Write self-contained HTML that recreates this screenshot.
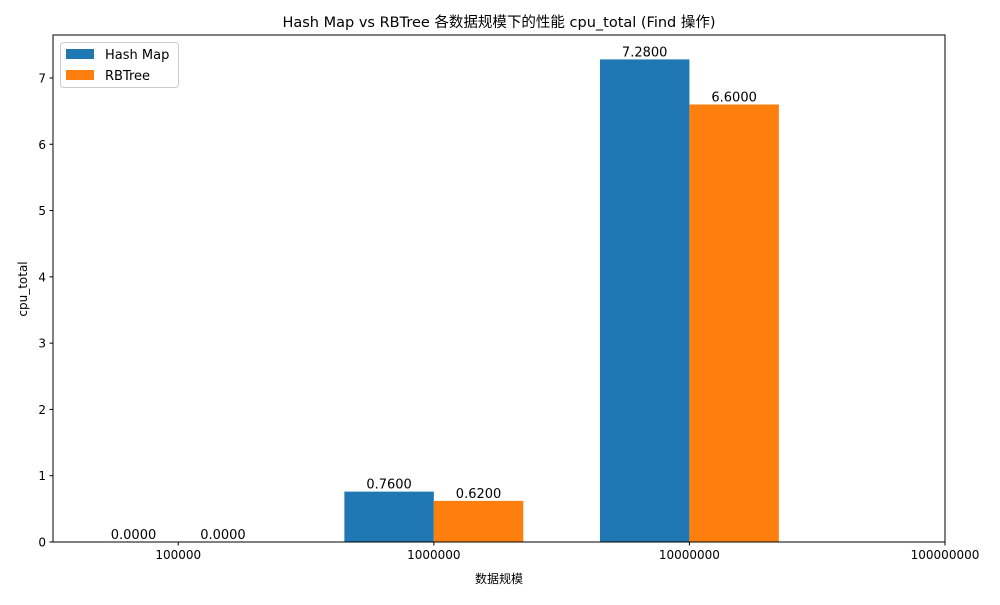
<!DOCTYPE html>
<html><head><meta charset="utf-8"><style>
body{margin:0;background:#fff;}
svg text{font-family:"DejaVu Sans","Liberation Sans","Noto Sans CJK SC",sans-serif;fill:#000;}
</style></head><body>
<svg id="chart" width="1000" height="600">
<text x="499" y="27" text-anchor="middle" font-size="14.5">Hash Map vs RBTree 各数据规模下的性能 cpu_total (Find 操作)</text>
<text x="499" y="583" text-anchor="middle" font-size="12">数据规模</text>
<text x="27" y="289" text-anchor="middle" font-size="12" transform="rotate(-90 27 289)">cpu_total</text>
<g id="marks"></g>
<rect x="53" y="35" width="892" height="507" fill="none" stroke="#000" stroke-width="1"/>
<g>
<rect x="60.5" y="42.5" width="118" height="45" rx="3" fill="#fff" stroke="#ccc"/>
<rect x="66" y="49" width="28" height="10" fill="#1f77b4"/>
<text x="105" y="59" font-size="13">Hash Map</text>
<rect x="66" y="70" width="28" height="10" fill="#ff7f0e"/>
<text x="105" y="80" font-size="13">RBTree</text>
</g>
</svg>
<script>
const categories=["100000","1000000","10000000","100000000"];
const hashValues=[0,0.76,7.28];
const rbValues=[0,0.62,6.6];
const yTicks=[0,1,2,3,4,5,6,7];
const NS="http://www.w3.org/2000/svg";
const g=document.getElementById('marks');
const x=i=>53+(i+0.49)*(892/3.49);
const y=v=>542-v*66.29;
const bw=0.35*892/3.49;
function mk(t,a){const e=document.createElementNS(NS,t);for(const k in a)e.setAttribute(k,a[k]);g.appendChild(e);return e;}
yTicks.forEach(t=>{
 const l=mk('line',{x1:49.5,x2:53,y1:y(t),y2:y(t),stroke:'#000'});
 
 
 const tx=mk('text',{x:46,y:y(t)+4.5,'text-anchor':'end','font-size':12});tx.textContent=t;
 
 
});
categories.forEach((c,i)=>{
 const l=mk('line',{x1:x(i),x2:x(i),y1:542,y2:545.5,stroke:'#000'});
 
 
 const tx=mk('text',{x:x(i),y:559,'text-anchor':'middle','font-size':12});tx.textContent=c;
 
 
});
function series(vals,off,color,name){
 vals.forEach((v,i)=>{
  const x0=x(i)+off*bw;
  const r=mk('rect',{x:x0,y:y(v),width:bw,height:542-y(v),fill:color});
  
  
  const t=mk('text',{x:x0+bw/2,y:y(v)-3,'text-anchor':'middle','font-size':13});t.textContent=v.toFixed(4);
  
  
 });
}
series(hashValues,-1,'#1f77b4','hash-map');
series(rbValues,0,'#ff7f0e','rbtree');
</script>
</body></html>
